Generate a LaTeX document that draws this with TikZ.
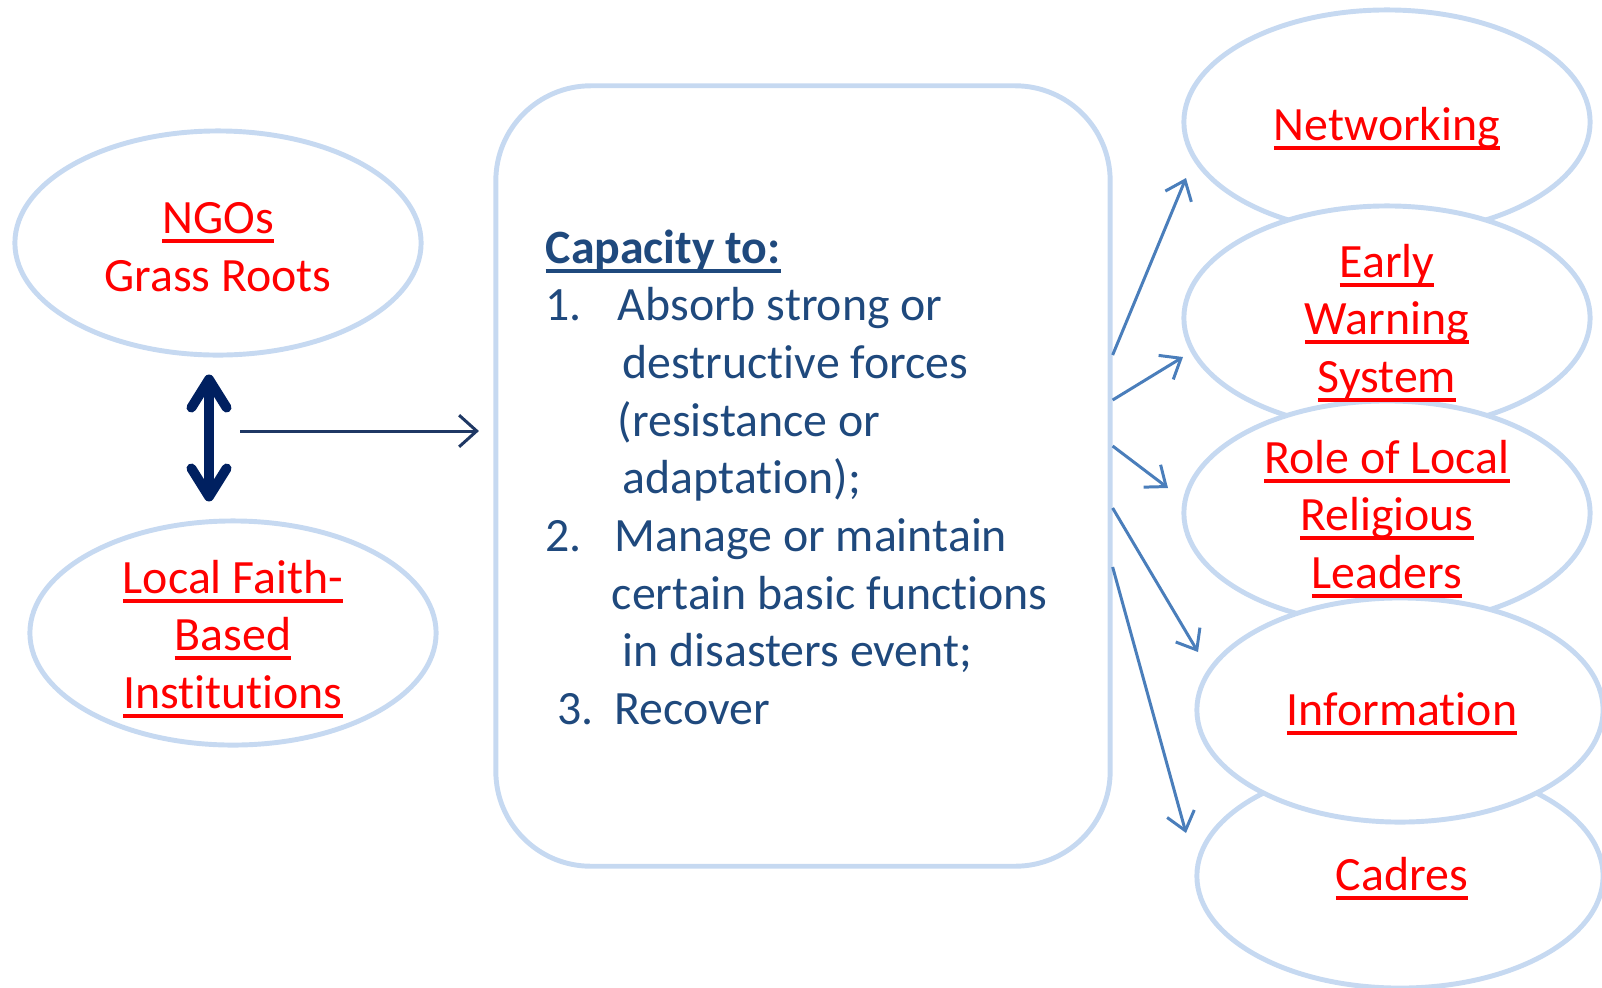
\documentclass[tikz,border=0pt]{standalone}
\usepackage{fontspec}
\setmainfont{Carlito}[RawFeature={-liga;-clig;-calt}]
\usetikzlibrary{shapes.geometric,arrows.meta,calc}

\definecolor{rim}{HTML}{C6D9F1}
\definecolor{linkred}{HTML}{FF0000}
\definecolor{textblue}{HTML}{1F497D}
\definecolor{navy}{HTML}{002060}
\definecolor{darkline}{HTML}{1F3864}
\definecolor{outblue}{HTML}{4A7EBB}

\newsavebox{\lnkbox}
\newcommand{\lnk}[1]{\sbox\lnkbox{#1}\rlap{\rule[-2.7pt]{\wd\lnkbox}{1.1pt}}\usebox\lnkbox}
\newcommand{\diagfont}{\fontsize{13.6}{16.4}\selectfont}

\begin{document}
\begin{tikzpicture}[x=0.01cm,y=-0.01cm]

      \useasboundingbox (0,0) rectangle (1602,987);

      \begin{scope}[every node/.style={ellipse,draw=rim,line width=1.4pt,fill=white,
          minimum width=4.06cm,minimum height=2.24cm}]
        \node (ngo) at (218,243)  {};
        \node (lfb) at (233,633)  {};
        \node (net) at (1387,122) {};
        \node (ews) at (1387,318) {};
        \node (rol) at (1387,513) {};
        \node (cad) at (1400,876) {};
        \node (inf) at (1400,710) {};
      \end{scope}

      \node[draw=rim,line width=1.4pt,rounded corners=0.95cm,
        minimum width=6.14cm,minimum height=7.8cm] (box) at (803,476) {};

      \begin{scope}[every node/.style={text=linkred,align=center,font=\diagfont}]
        \node (ngotxt) at (218,247)  {\lnk{NGOs}\\Grass Roots};
        \node (lfbtxt) at (233,639)  {\lnk{Local Faith-}\\\lnk{Based}\\\lnk{Institutions}};
        \node (nettxt) at (1387,129) {\lnk{Networking}};
        \node (ewstxt) at (1387,323) {\lnk{Early}\\\lnk{Warning}\\\lnk{System}};
        \node (roltxt) at (1387,519) {\lnk{Role of Local}\\\lnk{Religious}\\\lnk{Leaders}};
        \node (inftxt) at (1402,714) {\lnk{Information}};
        \node (cadtxt) at (1402,879) {\lnk{Cadres}};
      \end{scope}

      \node[text=textblue,align=left,anchor=north west,inner sep=0pt,font=\diagfont] (cap) at (545,229)
        {\lnk{\textbf{Capacity to:}}\\
         \makebox[20.5pt][l]{1.}Absorb strong or\\
         \hspace*{21.9pt}destructive forces\\
         \hspace*{20.5pt}(resistance or\\
         \hspace*{21.9pt}adaptation);\\
         \makebox[19.6pt][l]{2.}Manage or maintain\\
         \hspace*{18.8pt}certain basic functions\\
         \hspace*{21.9pt}in disasters event;\\
         \hspace*{3.4pt}\makebox[16.2pt][l]{3.}Recover};

      % links between the two groups
      \draw[navy,line width=2.8pt,
        {Straight Barb[length=8pt,width=10pt,round]}-{Straight Barb[length=8pt,width=10pt,round]}]
        ($(ngo.south)+(-9,17)$) -- ($(lfb.north)+(-24,-17)$);

      \coordinate (src) at (240,431);
      \draw[darkline,line width=0.85pt,-{Straight Barb[length=5pt,width=9pt]},shorten >=4.1pt]
        (src) -- (src -| box.west);

      % capacities going out
      \coordinate (t1) at (1186,178);
      \coordinate (t2) at (1183,357);
      \coordinate (t3) at (1168,488);
      \coordinate (t4) at (1198,652);
      \coordinate (t5) at (1186,833);

      \begin{scope}[every edge/.style={draw=outblue,line width=0.85pt,-{Straight Barb[length=5pt,width=8pt]}}]
        \path ($(box.east)+(0,-121)$) edge (t1);
        \path ($(box.east)+(0,-76)$)  edge (t2);
        \path ($(box.east)+(0,-30)$)  edge (t3);
        \path ($(box.east)+(0,32)$)   edge (t4);
        \path ($(box.east)+(0,91)$)   edge (t5);
      \end{scope}

    \end{tikzpicture}
\end{document}
